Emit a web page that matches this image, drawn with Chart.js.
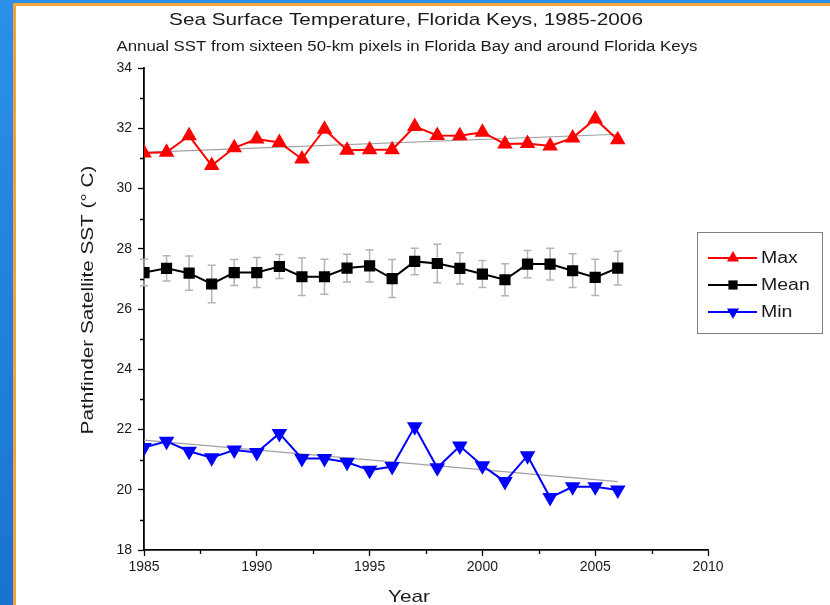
<!DOCTYPE html>
<html>
<head>
<meta charset="utf-8">
<script src="https://cdn.jsdelivr.net/npm/chart.js@4.4.0/dist/chart.umd.min.js"></script>
<style>
  html, body { margin: 0; padding: 0; width: 830px; height: 605px; overflow: hidden;
    background: linear-gradient(180deg, #2b90e8 0%, #1a72d2 100%); }
  #panel { position: absolute; left: 13px; top: 3px; right: 0; bottom: 0; background: #fff;
    border-left: 3px solid #f2a43a; border-top: 3px solid #f2a43a; }
  #wrap { position: absolute; left: 0; top: 0; width: 830px; height: 605px; }
</style>
</head>
<body>
<div id="panel"></div>
<div id="wrap"><canvas id="sst" width="830" height="605"></canvas></div>
<script>
// Annual sea surface temperature, Florida Keys (°C)
const years = [1985, 1986, 1987, 1988, 1989, 1990, 1991, 1992, 1993, 1994, 1995,
               1996, 1997, 1998, 1999, 2000, 2001, 2002, 2003, 2004, 2005, 2006];
const maxSST = [31.18, 31.2, 31.75, 30.76, 31.35, 31.64, 31.53, 30.98, 31.97, 31.27, 31.29,
                31.29, 32.06, 31.76, 31.75, 31.87, 31.48, 31.49, 31.41, 31.68, 32.31, 31.62];
const meanSST = [27.21, 27.35, 27.19, 26.83, 27.21, 27.21, 27.41, 27.07, 27.07, 27.36, 27.43,
                 27.01, 27.58, 27.51, 27.35, 27.16, 26.97, 27.49, 27.49, 27.27, 27.05, 27.36];
const meanErr = [0.44, 0.42, 0.57, 0.62, 0.43, 0.5, 0.4, 0.62, 0.58, 0.46, 0.53,
                 0.63, 0.44, 0.64, 0.52, 0.45, 0.53, 0.45, 0.53, 0.56, 0.6, 0.56];
const minSST = [21.4, 21.61, 21.28, 21.06, 21.32, 21.24, 21.87, 21.04, 21.04, 20.91, 20.65,
                20.77, 22.09, 20.73, 21.45, 20.8, 20.27, 21.13, 19.74, 20.1, 20.1, 19.99];
// Linear fits, endpoints at 1985 and 2006
const trendYears = [1985, 2006];
const maxTrend = [31.2, 31.8];
const minTrend = [21.65, 20.27];
// Axis ranges and ticks
const xRange = [1985, 2010], xStep = 5, xMinorStep = 2.5;
const yRange = [18, 34], yStep = 2, yMinorStep = 1;
const seriesNames = ['Max', 'Mean', 'Min'];
const titleText = 'Sea Surface Temperature, Florida Keys, 1985-2006';
const subtitleText = 'Annual SST from sixteen 50-km pixels in Florida Bay and around Florida Keys';
const xTitle = 'Year';
const yTitle = 'Pathfinder Satellite SST (° C)';

const FONT = '"Liberation Sans", Arial, sans-serif';
const TEXT_COLOR = '#1a1a1a';
const WIDE = 1.22;   // horizontal widening of the label face
const pts = (xs, ys) => xs.map((x, i) => ({ x: x, y: ys[i] }));

// Gray vertical error bars with caps for the Mean series
const errorBars = {
  id: 'errorBars',
  beforeDatasetsDraw(chart) {
    const { ctx, scales: { x, y } } = chart;
    ctx.save();
    ctx.strokeStyle = '#b4b4b4';
    ctx.lineWidth = 1.5;
    years.forEach((yr, i) => {
      const px = x.getPixelForValue(yr);
      const top = y.getPixelForValue(meanSST[i] + meanErr[i]);
      const bot = y.getPixelForValue(meanSST[i] - meanErr[i]);
      ctx.beginPath();
      ctx.moveTo(px, top); ctx.lineTo(px, bot);
      ctx.moveTo(px - 4, top); ctx.lineTo(px + 4, top);
      ctx.moveTo(px - 4, bot); ctx.lineTo(px + 4, bot);
      ctx.stroke();
    });
    ctx.restore();
  }
};

// Short unlabeled minor ticks on both axes
const minorTicks = {
  id: 'minorTicks',
  afterDraw(chart) {
    const { ctx, scales: { x, y }, chartArea } = chart;
    ctx.save();
    ctx.strokeStyle = '#000';
    ctx.lineWidth = 1.3;
    ctx.beginPath();
    for (let v = xRange[0] + xMinorStep; v < xRange[1]; v += xStep) {
      const px = Math.round(x.getPixelForValue(v)) + 0.5;
      ctx.moveTo(px, chartArea.bottom); ctx.lineTo(px, chartArea.bottom + 4);
    }
    for (let v = yRange[0] + yMinorStep; v < yRange[1]; v += yStep) {
      const py = Math.round(y.getPixelForValue(v)) + 0.5;
      ctx.moveTo(chartArea.left, py); ctx.lineTo(chartArea.left - 4, py);
    }
    ctx.stroke();
    ctx.restore();
  }
};

function drawMarker(ctx, style, cx, cy, r, color, rotation) {
  ctx.save();
  ctx.fillStyle = color;
  ctx.translate(cx, cy);
  ctx.rotate((rotation || 0) * Math.PI / 180);
  ctx.beginPath();
  if (style === 'triangle') {
    ctx.moveTo(0, -r);
    ctx.lineTo(r * Math.sin(Math.PI / 3), r / 2);
    ctx.lineTo(-r * Math.sin(Math.PI / 3), r / 2);
    ctx.closePath();
  } else {
    const s = r / Math.SQRT2;
    ctx.rect(-s, -s, 2 * s, 2 * s);
  }
  ctx.fill();
  ctx.restore();
}

// Text in a widened face, optionally rotated
function wideText(ctx, text, x, y, size, align, angle) {
  ctx.save();
  ctx.translate(x, y);
  if (angle) ctx.rotate(angle);
  ctx.scale(WIDE, 1);
  ctx.font = size + 'px ' + FONT;
  ctx.fillStyle = TEXT_COLOR;
  ctx.textAlign = align;
  ctx.textBaseline = 'middle';
  ctx.fillText(text, 0, 0);
  ctx.restore();
}

// Titles, axis titles and boxed legend
const annotations = {
  id: 'annotations',
  afterDraw(chart) {
    const { ctx } = chart;
    wideText(ctx, titleText, 406, 20, 17, 'center');
    wideText(ctx, subtitleText, 407, 47, 13.8, 'center');
    wideText(ctx, xTitle, 409, 597, 17, 'center');
    wideText(ctx, yTitle, 88, 300, 17, 'center', -Math.PI / 2);

    ctx.save();
    ctx.strokeStyle = '#808080';
    ctx.lineWidth = 1;
    ctx.strokeRect(697.5, 232.5, 125, 101);
    seriesNames.forEach((name, i) => {
      const ds = chart.data.datasets[i];
      const yy = 258 + i * 27;
      ctx.strokeStyle = ds.borderColor;
      ctx.lineWidth = 2;
      ctx.beginPath();
      ctx.moveTo(708, yy); ctx.lineTo(757, yy);
      ctx.stroke();
      drawMarker(ctx, ds.pointStyle, 733, yy, ds.pointRadius, ds.borderColor, ds.pointRotation);
      wideText(ctx, name, 761, yy + 1, 16, 'left');
    });
    ctx.restore();
  }
};

new Chart(document.getElementById('sst'), {
  type: 'line',
  data: {
    datasets: [
      { label: seriesNames[0], data: pts(years, maxSST), borderColor: '#ff0000', backgroundColor: '#ff0000',
        borderWidth: 2, pointStyle: 'triangle', pointRadius: 7, pointRotation: 0 },
      { label: seriesNames[1], data: pts(years, meanSST), borderColor: '#000000', backgroundColor: '#000000',
        borderWidth: 2, pointStyle: 'rect', pointRadius: 6.5, pointRotation: 0 },
      { label: seriesNames[2], data: pts(years, minSST), borderColor: '#0000ff', backgroundColor: '#0000ff',
        borderWidth: 2, pointStyle: 'triangle', pointRadius: 7, pointRotation: 180 },
      { label: 'Max fit', data: pts(trendYears, maxTrend), borderColor: '#a0a0a0', borderWidth: 1.2, pointRadius: 0 },
      { label: 'Min fit', data: pts(trendYears, minTrend), borderColor: '#a0a0a0', borderWidth: 1.2, pointRadius: 0 }
    ]
  },
  options: {
    responsive: false,
    animation: false,
    layout: { padding: { left: 78, top: 68, right: 122, bottom: 0 } },
    plugins: { legend: { display: false }, tooltip: { enabled: false }, title: { display: false } },
    elements: { line: { tension: 0 } },
    scales: {
      x: {
        type: 'linear', min: xRange[0], max: xRange[1],
        afterFit: s => { s.height = 55; },
        ticks: { stepSize: xStep, autoSkip: false, maxRotation: 0, padding: 3,
                 color: TEXT_COLOR, font: { family: FONT, size: 14 }, callback: v => String(v) },
        grid: { drawOnChartArea: false, drawTicks: true, tickLength: 6, tickColor: '#000', tickWidth: 1.3 },
        border: { display: true, color: '#000', width: 1.8 }
      },
      y: {
        min: yRange[0], max: yRange[1],
        afterFit: s => { s.width = 66; },
        ticks: { stepSize: yStep, padding: 6, color: TEXT_COLOR, font: { family: FONT, size: 14 },
                 callback: v => String(v) },
        grid: { drawOnChartArea: false, drawTicks: true, tickLength: 6, tickColor: '#000', tickWidth: 1.3 },
        border: { display: true, color: '#000', width: 1.8 }
      }
    }
  },
  plugins: [errorBars, minorTicks, annotations]
});
</script>
</body>
</html>
